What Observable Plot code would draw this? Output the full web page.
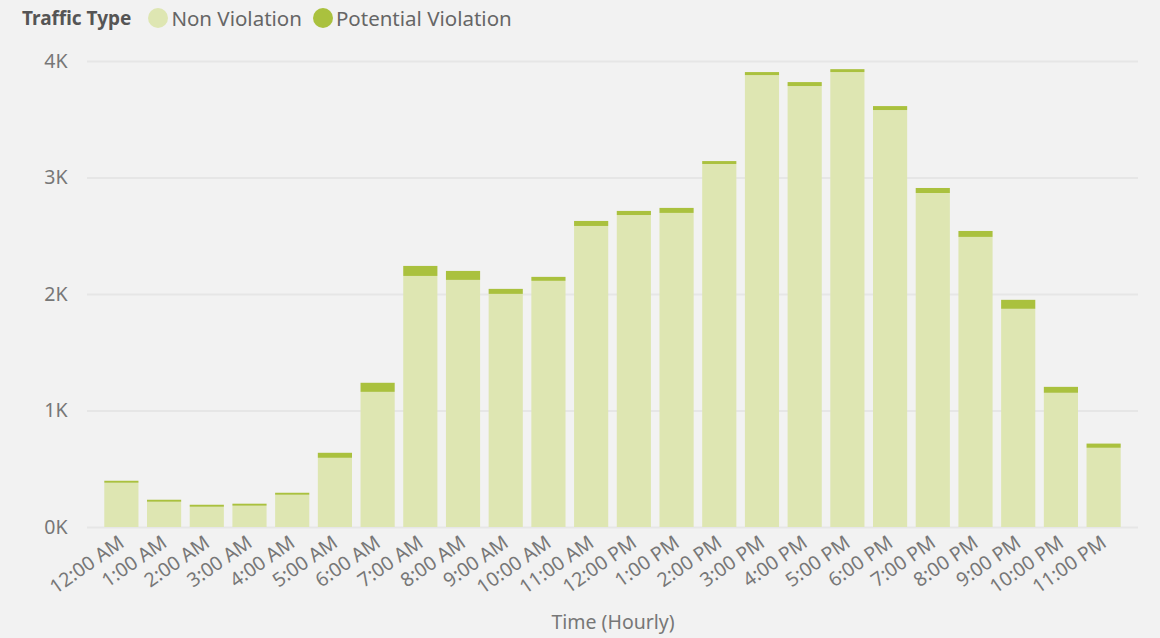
<!DOCTYPE html>
<html>
<head>
<meta charset="utf-8">
<script src="https://cdn.jsdelivr.net/npm/d3@7"></script>
<script src="https://cdn.jsdelivr.net/npm/@observablehq/plot@0.6"></script>
<style>
  html, body { margin: 0; padding: 0; background: #f2f2f2; }
  body { width: 1160px; height: 638px; overflow: hidden; font-family: "Noto Sans", sans-serif; }
  #legend { height: 35px; display: flex; align-items: center; padding-left: 22px; font-size: 20.5px; color: #666; box-sizing: border-box; }
  #legend .title { font-weight: bold; font-size: 19px; color: #555; margin-right: 17px; }
  #legend .sw { width: 20px; height: 20px; border-radius: 50%; display: inline-block; margin-right: 3px; }
  #legend .item { display: flex; align-items: center; margin-right: 11px; }
</style>
</head>
<body>
<div id="legend"></div>
<div id="chart"></div>
<script>
const hours = ["12:00 AM","1:00 AM","2:00 AM","3:00 AM","4:00 AM","5:00 AM","6:00 AM","7:00 AM","8:00 AM","9:00 AM","10:00 AM","11:00 AM","12:00 PM","1:00 PM","2:00 PM","3:00 PM","4:00 PM","5:00 PM","6:00 PM","7:00 PM","8:00 PM","9:00 PM","10:00 PM","11:00 PM"];
const nonViolation = [380,217,174,183,277,594,1160,2155,2121,2001,2113,2584,2678,2696,3116,3879,3785,3905,3579,2867,2490,1873,1152,680];
const potentialViolation = [17,17,17,17,17,43,78,86,77,43,34,43,35,43,25,26,34,25,34,43,51,77,51,36];
const types = ["Non Violation","Potential Violation"];
const colors = ["#dee6b2","#aac13e"];
const yTicks = [0,1000,2000,3000,4000];

const legend = document.getElementById("legend");
legend.innerHTML = `<span class="title">Traffic Type</span>` +
  types.map((t,i)=>`<span class="item"><span class="sw" style="background:${colors[i]}"></span>${t}</span>`).join("");

const data = [];
hours.forEach((h,i)=>{
  data.push({hour:h, type:types[0], value:nonViolation[i]});
  data.push({hour:h, type:types[1], value:potentialViolation[i]});
});

const chart = Plot.plot({
  width: 1160,
  height: 603,
  marginLeft: 87,
  marginRight: 22,
  marginTop: 26,
  marginBottom: 111,
  style: {background: "#f2f2f2", fontFamily: "'Noto Sans', sans-serif", fontSize: "19px", color: "#777"},
  x: {domain: hours, paddingInner: 0.2, paddingOuter: 0.405, round: false, label: null},
  y: {domain: [0,4000], label: null},
  color: {domain: types, range: colors},
  marks: [
    Plot.gridY(yTicks, {stroke: "#e6e6e6", strokeOpacity: 1, strokeWidth: 2}),
    Plot.barY(data, {x: "hour", y: "value", fill: "type", order: types, inset: 0}),
    Plot.axisY(yTicks, {tickSize: 0, tickPadding: 20, tickFormat: d => d/1000 + "K", label: null, fontSize: 19.5, fill: "#777"}),
    Plot.axisX({tickSize: 0, tickPadding: 13, tickRotate: -35, fontSize: 19.5, fill: "#777", label: "Time (Hourly)", labelAnchor: "center", labelArrow: "none", labelOffset: 101})
  ]
});
document.getElementById("chart").appendChild(chart);
</script>
</body>
</html>
